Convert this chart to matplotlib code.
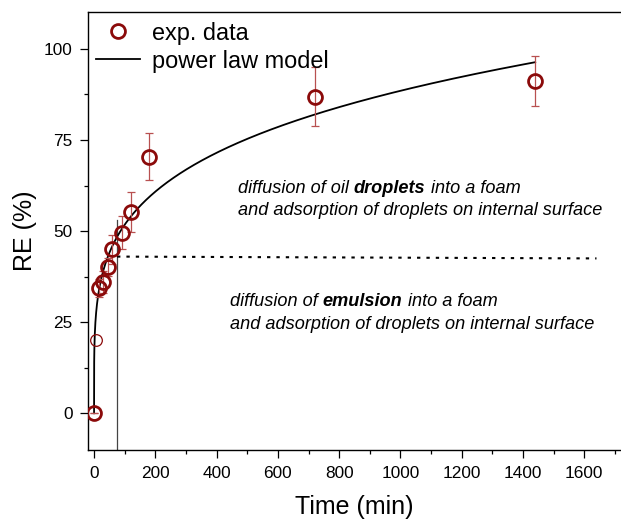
import numpy as np
import matplotlib
matplotlib.use("Agg")
import matplotlib.pyplot as plt
from matplotlib.lines import Line2D

plt.rcParams['font.family'] = ['Liberation Sans', 'DejaVu Sans']

# ---- data ----
time_min = [0, 15, 30, 45, 60, 90, 120, 180, 720, 1440]
re_pct   = [0, 34.3, 36.1, 40.1, 45.0, 49.6, 55.2, 70.4, 86.9, 91.2]
re_err   = [0, 2.5, 3.0, 2.5, 4.0, 4.5, 5.5, 6.5, 8.0, 6.9]

extra_time = [5]
extra_re = [20]

# power law model RE = a * t^b (parameters estimated from the drawn curve)
model_a = 17.7
model_b = 0.233
model_tmax = 1440

# boundary lines
vline_t = 75
vline_ytop = 53
hline_t = [75, 1640]
hline_y = [43.0, 42.5]

xticks = [0, 200, 400, 600, 800, 1000, 1200, 1400, 1600]
yticks = [0, 25, 50, 75, 100]

fig = plt.figure(figsize=(6.21, 5.20), dpi=100)
ax = fig.add_axes([0.1416, 0.1352, 1.0 - 0.1416, 0.976 - 0.1352])

red = '#8b0a0a'
errc = '#b85050'

# model curve
t_model = np.linspace(0, model_tmax, 3000)
t_model = np.concatenate([np.linspace(0, 1, 200), t_model[t_model > 1]])
ax.plot(t_model, model_a * t_model ** model_b, color='black', lw=1.3, zorder=3)

# boundary lines
ax.plot([vline_t, vline_t], [-10, vline_ytop], color='#444444', lw=0.9, zorder=2)
ax.plot(hline_t, hline_y, color='black', lw=1.5, dashes=(1.6, 2.9), zorder=2)

# data
ax.errorbar(time_min, re_pct, yerr=re_err, fmt='none', ecolor=errc, elinewidth=0.9,
            capsize=3, capthick=0.9, zorder=4)
ax.plot(time_min, re_pct, 'o', ms=10, mfc='none', mec=red, mew=2.0, zorder=5)
ax.plot(extra_time, extra_re, 'o', ms=8.4, mfc='none', mec=red, mew=0.9, zorder=5)

ax.set_xlim(-20, 1720)
ax.set_ylim(-10, 110)
ax.set_xticks(xticks)
ax.set_yticks(yticks)
ax.set_xticks(np.arange(100, 1800, 200), minor=True)
ax.set_yticks(np.arange(-12.5 + 25, 110, 25), minor=True)
ax.tick_params(which='major', direction='out', length=6, width=0.9, labelsize=12.4)
ax.tick_params(which='minor', direction='out', length=2.8, width=0.9)
ax.tick_params(axis='x', which='major', pad=5.5)
ax.tick_params(axis='y', which='major', pad=5)
ax.spines['right'].set_visible(False)
for s in ['left', 'bottom', 'top']:
    ax.spines[s].set_linewidth(1.0)

ax.set_xlabel('Time (min)', fontsize=18)
ax.set_ylabel('RE (%)', fontsize=18)
ax.xaxis.set_label_coords(0.5, -0.104)
ax.yaxis.set_label_coords(-0.095, 0.5)

# legend
handles = [Line2D([], [], marker='o', ls='none', ms=10, mfc='none', mec=red, mew=2.0),
           Line2D([], [], color='black', lw=1.3)]
leg = ax.legend(handles, ['exp. data', 'power law model'], loc='upper left',
                bbox_to_anchor=(0.006, 0.99), frameon=False, fontsize=16.9,
                handlelength=1.9, handletextpad=0.5, labelspacing=0.22,
                borderpad=0.2, borderaxespad=0.0)

# annotations with bold words
fs = 13.1


def rich_line(x, y, parts):
    prev = None
    for txt, bold in parts:
        kw = dict(fontsize=fs, style='italic', weight='bold' if bold else 'normal')
        if prev is None:
            prev = ax.text(x, y, txt, transform=ax.transData, va='center', ha='left', **kw)
        else:
            prev = ax.annotate(txt, xy=(1, 0), xycoords=prev, va='bottom', ha='left', **kw)


rich_line(470, 61.8, [('diffusion of oil ', False), ('droplets', True), (' into a foam', False)])
rich_line(470, 55.6, [('and adsorption of droplets on internal surface', False)])
rich_line(444, 30.6, [('diffusion of ', False), ('emulsion', True), (' into a foam', False)])
rich_line(444, 24.4, [('and adsorption of droplets on internal surface', False)])

fig.savefig('out.png', dpi=100)
